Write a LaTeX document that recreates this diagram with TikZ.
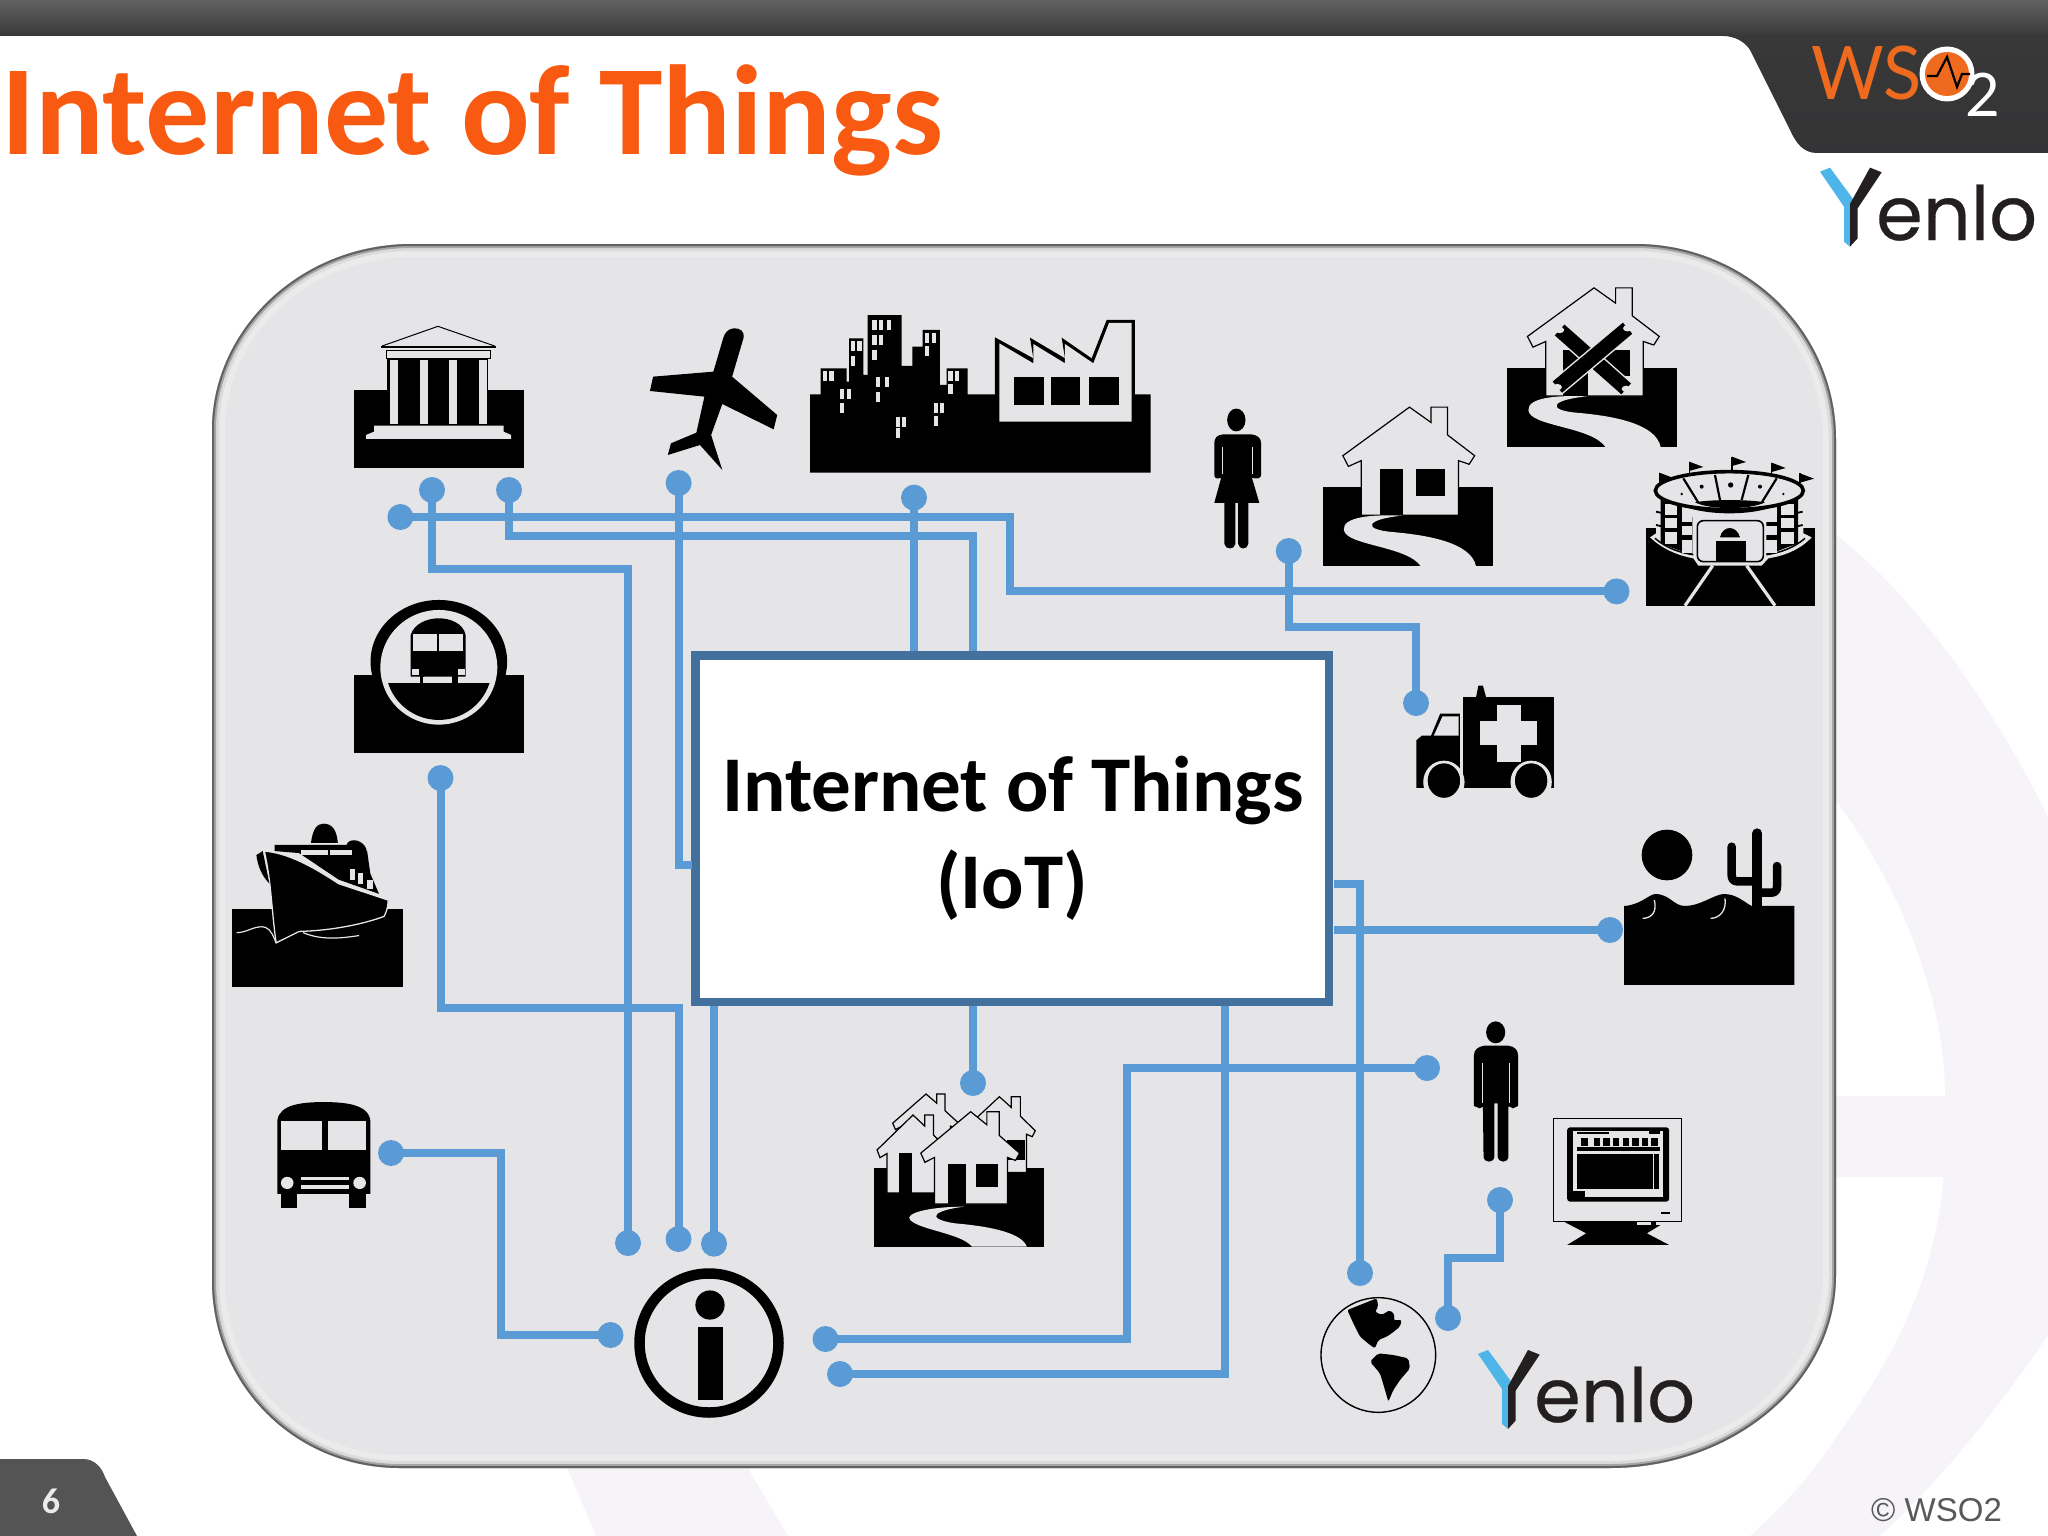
\documentclass[tikz,border=0pt]{standalone}
\usepackage{fontspec}
\setmainfont{Carlito}
\newfontfamily\latofont{Lato}
\newfontfamily\popfont[FakeBold=0.4]{Poppins}
\newfontfamily\arialfont{Liberation Sans}
\usetikzlibrary{calc}
\definecolor{panelc}{HTML}{E5E4E7}
\definecolor{wirec}{HTML}{5B9BD5}
\definecolor{boxc}{HTML}{44709E}
\definecolor{titlec}{HTML}{F95A12}
\definecolor{darkc}{HTML}{343436}
\definecolor{wmc}{HTML}{F6F4F8}
\definecolor{logoblue}{HTML}{4DB5E8}
\definecolor{logoblack}{HTML}{231F20}
\definecolor{wsoorange}{HTML}{EE6A1F}
\tikzset{
  z1/.style={shift={(200,260)},xscale=.4464,yscale=.3333},
  z2/.style={shift={(1150,260)},xscale=.4592,yscale=.3571},
  z3/.style={shift={(220,800)},xscale=.3955,yscale=.4082},
  z4/.style={shift={(840,1000)},xscale=.6378,yscale=.3333},
  z5/.style={shift={(1700,0)},scale=.3333},
  z6/.style={shift={(800,300)},scale=.3333},
  wire/.style={draw=wirec,line width=8pt,miter limit=10},
  dot/.style={circle,fill=wirec,draw=none,minimum size=26pt,inner sep=0pt,outer sep=0pt},
  lt/.style={fill=panelc},
  hs/.style={fill=panelc,draw=black,line width=1.2pt,line join=miter},
}
\newcommand\houseoutline{(565,412) -- (612,455) -- (612,412) -- (648,412) -- (648,490) -- (707,548) -- (695,572) -- (672,562) -- (672,715) -- (460,715) -- (460,562) -- (432,578) -- (420,548) -- cycle}
\newcommand\houseroad{(550,716) .. controls (480,712) and (420,720) .. (422,755) .. controls (425,800) and (560,800) .. (590,858) -- (710,858) .. controls (700,790) and (600,770) .. (530,762) .. controls (460,755) and (470,725) .. (550,716) -- cycle}
\newcommand\yenlologo{%
  \fill[logoblue] (360,515) -- (390,503) -- (470,612) -- (450,630) -- (450,740) -- (432,725) -- (432,620) -- cycle;
  \fill[logoblack] (510,503) -- (545,517) -- (473,625) -- (473,715) -- (450,740) -- (450,612) -- cycle;
}
\begin{document}
\begin{tikzpicture}[x=1pt,y=-1pt]
\useasboundingbox (0,0) rectangle (2048,1536);
\fill[white] (0,0) rectangle (2048,1536);
% watermark
\fill[wmc] (1800,510) .. controls (1900,570) and (1990,700) .. (2048,817) -- (2048,1335) .. controls (1990,1420) and (1940,1480) .. (1880,1536) -- (1750,1536) .. controls (1790,1500) and (1815,1470) .. (1837,1436) .. controls (1900,1350) and (1945,1260) .. (1945,1140) .. controls (1945,980) and (1880,840) .. (1800,760) -- cycle;
\fill[white] (1800,760) .. controls (1880,840) and (1945,980) .. (1945,1096) -- (1800,1096) -- cycle;
\fill[wmc] (1800,1096) rectangle (1945,1177);
\fill[wmc] (564,1460) -- (743,1460) -- (788,1536) -- (596,1536) -- cycle;
% header
\shade[top color=black!62,bottom color=black!78] (0,0) rectangle (2048,36);
\shade[top color=black!78,bottom color=darkc] (2048,36) -- (2048,153) -- (1817,153) .. controls (1803,153) and (1796,143) .. (1790,130) -- (1750,50) .. controls (1745,42) and (1735,36) .. (1723,36) -- cycle;
\node[inner sep=0pt,anchor=base west,font=\fontsize{128}{140}\selectfont\bfseries,text=titlec] (title) at (1,154) {Internet of Things};
% WSO2 logo
\node[inner sep=0pt,anchor=base west,font=\fontsize{74}{80}\selectfont\latofont,text=wsoorange,xscale=.95] (ws) at (1811,100) {WS};
\node[circle,fill=white,minimum size=55pt,inner sep=0pt] (wsring) at (1947,74) {};
\fill[wsoorange] (wsring) circle (22);
\draw[black,line width=2.2pt] (1927,76) -- (1937,76) -- (1947,57) -- (1957,87) -- (1962,74) -- (1970,74);
\node[inner sep=0pt,anchor=base west,font=\fontsize{60}{66}\selectfont\latofont,text=white] (two) at (1965,117) {2};
% Yenlo top
\begin{scope}[z5]
\yenlologo
\end{scope}
\node[inner sep=0pt,anchor=base west,font=\fontsize{75}{80}\selectfont\popfont,text=logoblack] (yenloa) at (1876,240) {enlo};
% page tab
\fill[black!67] (0,1459) -- (83,1459) .. controls (95,1459) and (102,1468) .. (105,1477) -- (137,1536) -- (0,1536) -- cycle;
\node[inner sep=0pt,anchor=base,font=\fontsize{36}{40}\selectfont\bfseries,text=white!92!black] (pg) at (51,1513) {6};
\node[inner sep=0pt,anchor=base west,font=\fontsize{33}{36}\selectfont\arialfont,text=black!65] (copy) at (1871,1521) {© WSO2};
% panel
\newcommand\panelpath{(412,244) -- (1635,244) .. controls (1745,244) and (1836,330) .. (1836,440) -- (1836,1275) .. controls (1836,1385) and (1730,1468) .. (1610,1468) -- (400,1468) .. controls (295,1468) and (212,1385) .. (212,1280) -- (212,430) .. controls (212,330) and (300,244) .. (412,244) -- cycle}
\fill[panelc] \panelpath;
\begin{scope}
\clip \panelpath;
\draw[black!8,line width=26pt] \panelpath;
\draw[black!14,line width=14pt] \panelpath;
\draw[black!35,line width=8pt] \panelpath;
\draw[black!62,line width=4pt] \panelpath;
\end{scope}
% central box
\node[draw=boxc,line width=8.5pt,fill=white,minimum width=633.5pt,minimum height=346.5pt,inner sep=0pt,outer sep=4.25pt] (box) at (1012.25,828.75) {};
\node[inner sep=0pt,anchor=base,font=\fontsize{79}{90}\selectfont\bfseries] (t1) at (1013,811) {Internet of Things};
\node[inner sep=0pt,anchor=base,font=\fontsize{79}{90}\selectfont\bfseries] (t2) at (1012,908) {(IoT)};
% dots
\node[dot] (dBankA) at (432,490) {};
\node[dot] (dBankB) at (509,490) {};
\node[dot] (dBankC) at (400.4,517) {};
\node[dot] (dPlane) at (678.6,483) {};
\node[dot] (dCity) at (914,497.6) {};
\node[dot] (dWoman) at (1288.7,551) {};
\node[dot] (dStad) at (1616.5,591.4) {};
\node[dot] (dAmb) at (1416,703) {};
\node[dot] (dDesert) at (1610,930) {};
\node[dot] (dHomes) at (973,1083) {};
\node[dot] (dMan) at (1427,1068) {};
\node[dot] (dMon) at (1500,1200) {};
\node[dot] (dGlobeA) at (1360,1273) {};
\node[dot] (dGlobeB) at (1448,1318) {};
\node[dot] (dSub) at (440.5,778) {};
\node[dot] (dBus) at (391,1153) {};
\node[dot] (dIa) at (628,1243) {};
\node[dot] (dIb) at (678.5,1239) {};
\node[dot] (dIc) at (714,1243.7) {};
\node[dot] (dId) at (610.5,1335) {};
\node[dot] (dIe) at (825.5,1339) {};
\node[dot] (dIf) at (840,1374) {};
\coordinate (ca) at (1010,591.4);
\coordinate (cb) at (973,536);
\coordinate (cc) at (628,569);
\coordinate (cd) at (691.5,865);
\coordinate (ce) at (1416,627);
\coordinate (cf) at (678.5,1008);
\coordinate (cg) at (500.6,1335);
\coordinate (ch) at (1127,1068);
\coordinate (ci) at (1224.6,1006);
\coordinate (cj) at (1333.6,884);
\coordinate (ck) at (1333.6,930);
\coordinate (cl) at (1475,1258);
% wires
\draw[wire] (dBankC.center) -| (ca) -- (dStad.center);
\draw[wire] (dBankB.center) |- (cb) -- (cb |- box.north);
\draw[wire] (dBankA.center) |- (cc) -- (dIa.center);
\draw[wire] (dPlane.center) |- (cd);
\draw[wire] (dCity.center) -- (dCity |- box.north);
\draw[wire] (dWoman.center) |- (ce) -- (dAmb.center);
\draw[wire] (dSub.center) |- (cf) -- (dIb.center);
\draw[wire] (dIc.center) -- (dIc |- box.south);
\draw[wire] (dBus.center) -| (cg) -- (dId.center);
\draw[wire] (dIe.center) -| (ch) -- (dMan.center);
\draw[wire] (dIf.center) -| (ci);
\draw[wire] (cj) -| (dGlobeA.center);
\draw[wire] (ck) -- (dDesert.center);
\draw[wire] (dHomes.center) -- (dHomes |- box.south);
\draw[wire] (dGlobeB.center) |- (cl) -| (dMon.center);
% bank + plane + subway
\begin{scope}[z1]
\fill[black] (344,390) rectangle (725,625);
\fill[panelc] (344,300) rectangle (418,389);
\fill[panelc] (650,300) rectangle (725,389);
\fill[black] (420,298) rectangle (646,495);
\foreach \cx in {425,492,558,625} \fill[panelc] (\cx,300) rectangle (\cx+18,492);
\fill[panelc] (418,272) rectangle (650,297);
\draw[black,line width=1pt] (418,272) rectangle (650,297);
\draw[black,line width=1pt] (408,258) -- (533,199) -- (660,258);
\draw[black,line width=2pt] (405,260) -- (662,260);
\fill[panelc] (390,497) -- (680,497) -- (680,515) -- (697,525) -- (697,537) -- (372,537) -- (372,525) -- (390,515) -- cycle;
% plane
\fill[black] (1195,205) .. controls (1210,203) and (1220,215) .. (1218,232) -- (1192,350) -- (1293,465) -- (1285,508) -- (1170,432) -- (1145,525) -- (1170,630) -- (1120,555) -- (1048,585) -- (1055,550) -- (1112,518) -- (1130,410) -- (1008,393) -- (1015,350) -- (1150,335) -- (1172,235) .. controls (1175,220) and (1182,207) .. (1195,205) -- cycle;
% subway
\fill[black] (344,1245) rectangle (725,1478);
\fill[black] (535,1205) ellipse [x radius=153,y radius=185];
\fill[panelc] (535,1222) ellipse [x radius=131,y radius=172];
\begin{scope}
\clip (535,1222) ellipse [x radius=119,y radius=158];
\fill[black] (380,1270) rectangle (690,1400);
\end{scope}
\fill[black] (472,1250) -- (472,1125) .. controls (480,1090) and (510,1075) .. (535,1075) .. controls (560,1075) and (590,1090) .. (595,1125) -- (595,1250) -- cycle;
\fill[black] (492,1248) rectangle (502,1272);
\fill[black] (565,1248) rectangle (577,1272);
\fill[panelc] (478,1123) rectangle (530,1172);
\fill[panelc] (535,1123) rectangle (590,1172);
\fill[panelc] (476,1226) rectangle (491,1244);
\fill[panelc] (578,1226) rectangle (593,1244);
\fill[panelc] (500,1250) rectangle (565,1270);
\end{scope}
% city
\begin{scope}[z6]
\fill[black] (30,283) -- (62,283) -- (62,205) -- (140,205) -- (140,245) -- (147,245) -- (147,115) -- (190,115) -- (190,225) -- (203,225) -- (203,45) -- (305,45) -- (305,198) -- (337,198) -- (337,140) -- (368,140) -- (368,90) -- (420,90) -- (420,255) -- (440,255) -- (440,205) -- (503,205) -- (503,283) -- (585,283) -- (585,112) -- (700,175) -- (690,113) -- (795,175) -- (785,113) -- (875,175) -- (920,60) -- (1005,60) -- (1005,283) -- (1052,283) -- (1052,518) -- (30,518) -- cycle;
\fill[panelc] (598,130) -- (700,190) -- (700,132) -- (795,190) -- (795,132) -- (880,190) -- (927,69) -- (995,69) -- (995,365) -- (598,365) -- cycle;
\fill[black] (643,230) rectangle (733,314);
\fill[black] (752,230) rectangle (840,314);
\fill[black] (867,230) rectangle (956,314);
\foreach \wx/\wy in {68/213,88/213,120/268,140/268,120/308,152/122,172/122,152/168,217/60,237/60,260/60,217/105,237/105,217/150,228/232,254/232,228/276,375/98,395/98,375/137,445/212,465/212,445/252,402/308,420/308,402/348,287/352,305/352,287/384}
  \fill[panelc] (\wx,\wy) rectangle (\wx+13,\wy+30);
\end{scope}
% woman, house, condemned house, ambulance
\begin{scope}[z2]
\fill[black] (188,448) ellipse [x radius=20,y radius=32];
\fill[black] (160,488) -- (218,488) .. controls (235,490) and (242,498) .. (242,515) -- (242,600) .. controls (242,612) and (235,614) .. (222,610) -- (238,680) -- (214,680) -- (214,795) .. controls (212,812) and (194,812) .. (192,795) -- (192,680) -- (186,680) -- (186,795) .. controls (184,812) and (164,812) .. (162,795) -- (162,680) -- (140,680) -- (155,610) .. controls (145,614) and (140,612) .. (140,600) -- (140,515) .. controls (140,498) and (145,490) .. (160,488) -- cycle;
\draw[panelc,line width=1.2pt] (158,525) -- (158,600) (224,525) -- (224,600);
% house
\fill[black] (376,637) rectangle (746,858);
\filldraw[hs] \houseoutline;
\fill[black] (500,585) rectangle (552,715);
\fill[black] (580,585) rectangle (643,660);
\fill[lt] \houseroad;
% condemned house
\begin{scope}[shift={(402,-334)}]
\fill[black] (376,637) rectangle (746,858);
\filldraw[hs] \houseoutline;
\fill[black] (497,585) rectangle (552,715);
\fill[black] (580,585) rectangle (643,660);
\fill[lt] \houseroad;
\foreach \ax/\ay/\bx/\by in {490/530/635/695,638/525/485/690}{
  \draw[panelc,line width=17.5pt] (\ax,\ay) -- (\bx,\by);
  \draw[black,line width=14.5pt] (\ax,\ay) -- (\bx,\by);
  \fill[panelc] (\ax,\ay) ellipse [x radius=10,y radius=9];
  \fill[panelc] (\bx,\by) ellipse [x radius=10,y radius=9];
}
\end{scope}
% ambulance
\fill[black] (682,1225) rectangle (880,1478);
\fill[black] (710,1225) -- (715,1192) -- (725,1192) -- (732,1225) -- cycle;
\fill[panelc] (755,1245) rectangle (807,1405);
\fill[panelc] (718,1290) rectangle (843,1358);
\fill[black] (580,1478) -- (580,1345) -- (592,1332) -- (612,1332) -- (632,1270) -- (675,1270) -- (675,1478) -- cycle;
\fill[panelc] (618,1332) -- (637,1278) -- (672,1278) -- (672,1332) -- cycle;
\foreach \wx in {640,830}{
  \fill[panelc] (\wx,1462) ellipse [x radius=45,y radius=60];
  \fill[black] (\wx,1458) ellipse [x radius=35,y radius=48];
}
\fill[panelc] (560,1480) rectangle (900,1520);
\foreach \wx in {640,830} \fill[black] (\wx,1458) ellipse [x radius=35,y radius=48];
\end{scope}
% stadium
\begin{scope}[shift={(1640,450)},scale=.3333]
\fill[black] (17,233) rectangle (525,467);
\fill[panelc] (30,262) .. controls (70,300) and (120,318) .. (160,325) -- (175,347) -- (365,347) -- (385,325) .. controls (430,318) and (480,300) .. (515,262) -- (490,250) -- (490,130) -- (48,130) -- (48,250) -- cycle;
\draw[black,line width=1.5pt] (45,265) .. controls (80,295) and (120,308) .. (160,314);
\draw[black,line width=1.5pt] (495,265) .. controls (460,295) and (420,308) .. (380,314);
\fill[black] (62,150) -- (157,170) -- (157,316) -- (62,280) -- cycle;
\fill[black] (474,150) -- (379,170) -- (379,316) -- (474,280) -- cycle;
\foreach \cx/\cy/\dx/\dy in {75/163/112/195,75/205/112/235,75/245/112/282,125/182/157/215,125/228/157/255,125/270/157/310,424/163/461/195,424/205/461/235,424/245/461/282,379/182/411/215,379/228/411/255,379/270/411/310}
  \fill[panelc] (\cx,\cy) rectangle (\dx,\dy);
\draw[black,line width=1.8pt] (48,185) -- (70,190) (48,225) -- (70,230) (488,185) -- (466,190) (488,225) -- (466,230);
\fill[panelc] (125,158) -- (411,158) -- (411,200) -- (125,200) -- cycle;
\fill[black] (115,160) .. controls (180,200) and (356,200) .. (421,160) .. controls (356,185) and (180,185) .. (115,160) -- cycle;
\fill[panelc] (268,122) ellipse [x radius=222,y radius=56];
\draw[black,line width=3.6pt] (268,122) ellipse [x radius=222,y radius=57];
\fill[black] (165,157) .. controls (210,148) and (326,148) .. (375,157) .. controls (330,180) and (210,180) .. (165,157) -- cycle;
\draw[black,line width=2.2pt] (130,85) -- (175,158) (225,75) -- (240,150) (325,75) -- (305,150) (410,85) -- (365,158);
\fill[black] (125,132) circle (4);
\fill[black] (185,110) circle (6);
\fill[black] (272,105) circle (8);
\fill[black] (360,110) circle (6);
\fill[black] (430,132) circle (4);
\foreach \px/\py/\pb in {58/68/100,148/35/75,276/20/65,395/38/75,480/70/100}{
  \draw[black,line width=1.3pt] (\px,\py) -- (\px,\pb);
  \fill[black] (\px,\py) -- (\px+42,\py+16) -- (\px,\py+28) -- cycle;
}
\filldraw[fill=panelc,draw=black,line width=1.6pt,rounded corners=6pt] (172,212) -- (370,212) -- (370,335) -- (172,335) -- cycle;
\fill[black] (228,272) rectangle (317,332);
\fill[black] (240,262) .. controls (248,225) and (290,225) .. (300,262) -- cycle;
\draw[panelc,line width=3.2pt] (218,347) -- (135,467) (320,347) -- (405,467);
\end{scope}
% ship, bus
\begin{scope}[z3]
\fill[black] (31,266) rectangle (462,458);
\fill[panelc] (31,200) rectangle (462,265);
\fill[black] (230,105) .. controls (235,70) and (245,58) .. (262,58) .. controls (285,58) and (295,75) .. (298,105) -- cycle;
\fill[black] (320,110) .. controls (325,92) and (360,95) .. (370,120) -- (372,150) -- cycle;
\fill[black] (138,110) -- (345,110) -- (372,125) -- (380,180) -- (402,230) -- (300,195) -- (200,130) -- (138,125) -- cycle;
\fill[panelc] (205,122) rectangle (272,135);
\fill[panelc] (278,122) rectangle (335,135);
\fill[panelc] (328,170) rectangle (342,195);
\fill[panelc] (350,180) rectangle (362,205);
\fill[panelc] (372,195) rectangle (386,218);
\filldraw[fill=black,draw=panelc,line width=1.3pt] (112,125) .. controls (170,130) and (230,160) .. (300,205) -- (425,245) .. controls (425,265) and (420,275) .. (415,285) .. controls (360,305) and (280,320) .. (200,322) -- (142,350) .. controls (130,270) and (130,200) .. (112,125) -- cycle;
\fill[black] (92,135) -- (108,125) -- (125,205) .. controls (105,185) and (95,160) .. (92,135) -- cycle;
\draw[panelc,line width=1.2pt] (42,325) .. controls (70,325) and (90,305) .. (115,312) .. controls (130,318) and (135,335) .. (142,350);
\draw[panelc,line width=1.2pt] (210,325) .. controls (260,345) and (310,338) .. (352,332);
% bus
\fill[black] (145,965) -- (145,785) .. controls (150,745) and (210,740) .. (262,740) .. controls (315,740) and (375,745) .. (380,785) -- (380,965) -- cycle;
\fill[black] (155,965) rectangle (195,1000);
\fill[black] (327,965) rectangle (370,1000);
\fill[panelc] (155,787) rectangle (257,858);
\fill[panelc] (272,787) rectangle (370,858);
\fill[panelc] (170,938) ellipse [x radius=16,y radius=15];
\fill[panelc] (353,938) ellipse [x radius=16,y radius=15];
\fill[panelc] (205,924) rectangle (325,932);
\fill[panelc] (205,944) rectangle (325,952);
\end{scope}
\node[circle,draw=black,line width=10.5pt,minimum size=139pt,inner sep=0pt] (info) at (709,1343) {};
\fill[black] (710,1305) circle (14.6);
\fill[black] (697.5,1327) rectangle (723,1400);
% desert
\begin{scope}[shift={(1620,820)},scale=.3333]
\fill[black] (141,105) circle (76);
\fill[black] (12,495) -- (12,258) .. controls (60,255) and (85,225) .. (105,222) .. controls (150,222) and (160,258) .. (195,258) .. controls (240,258) and (280,225) .. (310,222) .. controls (350,222) and (370,245) .. (395,258) -- (523,258) -- (523,495) -- cycle;
\draw[black,line width=10pt,line cap=round] (412,40) -- (412,260);
\draw[black,line width=8.5pt,line cap=round,line join=round] (335,80) -- (335,165) .. controls (335,178) and (342,184) .. (352,184) -- (412,184);
\draw[black,line width=8.5pt,line cap=round,line join=round] (471,138) -- (471,200) .. controls (471,212) and (464,218) .. (454,218) -- (412,218);
\draw[panelc,line width=1.3pt] (68,295) .. controls (95,295) and (112,275) .. (103,240);
\draw[panelc,line width=1.3pt] (272,295) .. controls (300,295) and (320,270) .. (315,235);
\end{scope}
% homes cluster
\fill[black] (873.8,1167.7) rectangle (1044,1246.7);
\begin{scope}[shift={(999.4,1096.7)},xscale=.2526,yscale=.25,shift={(-565,-412)}]
\filldraw[hs] \houseoutline;
\end{scope}
\begin{scope}[shift={(926,1094)},xscale=.2296,yscale=.2143,shift={(-565,-412)}]
\filldraw[hs] \houseoutline;
\end{scope}
\begin{scope}[z4]
\fill[black] (262,420) rectangle (290,480);
\end{scope}
\begin{scope}[shift={(913,1115)},xscale=.248,yscale=.257,shift={(-565,-412)}]
\filldraw[hs] \houseoutline;
\fill[black] (510,560) rectangle (560,715);
\end{scope}
\begin{scope}[shift={(970.7,1111.7)},xscale=.3444,yscale=.3046,shift={(-565,-412)}]
\filldraw[hs] \houseoutline;
\fill[black] (500,585) rectangle (552,715);
\fill[black] (580,585) rectangle (643,660);
\end{scope}
\begin{scope}[z4]
\fill[lt] (195,620) .. controls (140,620) and (100,640) .. (110,660) .. controls (125,690) and (190,700) .. (207,740) -- (293,740) .. controls (285,700) and (240,680) .. (180,670) .. controls (130,655) and (150,630) .. (195,620) -- cycle;
% man
\fill[black] (1028,97) ellipse [x radius=15,y radius=33];
\fill[black] (1010,137) -- (1048,137) .. controls (1058,140) and (1063,150) .. (1063,165) -- (1063,318) -- (1055,325) -- (1050,320) -- (1048,320) -- (1048,470) .. controls (1047,490) and (1033,490) .. (1031,470) -- (1031,310) -- (1026,310) -- (1026,470) .. controls (1025,490) and (1010,490) .. (1009,470) -- (1008,320) -- (1003,325) -- (994,318) -- (994,165) .. controls (994,150) and (1000,140) .. (1010,137) -- cycle;
\draw[panelc,line width=.9pt] (1008,190) -- (1008,310) (1049,190) -- (1049,310);
% monitor
\filldraw[fill=panelc,draw=black,line width=1pt] (1118,357) rectangle (1320,665);
\fill[black,rounded corners=3pt] (1140,382) rectangle (1300,605);
\fill[panelc] (1150,392) rectangle (1290,590);
\fill[black] (1156,462) rectangle (1274,566);
\fill[black] (1155,442) rectangle (1285,452);
\foreach \mx in {1162,1182,1197,1212,1227,1242,1257,1272} \fill[black] (\mx,415) rectangle (\mx+10,437);
\fill[black] (1155,396) rectangle (1205,401);
\fill[black] (1268,392) rectangle (1285,402);
\fill[black] (1276,462) rectangle (1284,566);
\fill[black] (1150,574) rectangle (1168,590);
\fill[black] (1287,637) rectangle (1301,643);
\fill[black] (1135,665) -- (1295,665) -- (1265,700) -- (1300,735) -- (1140,735) -- (1170,700) -- cycle;
\fill[panelc] (1250,665) rectangle (1272,676);
\fill[panelc] (1280,665) rectangle (1297,676);
\end{scope}
% globe
\begin{scope}[shift={(1310,1290)},scale=.3333]
\filldraw[fill=panelc,draw=black,line width=1.4pt] (205,195) circle (172);
\fill[black,rounded corners=2pt] (112,60) -- (200,25) -- (205,50) -- (195,65) -- (215,75) -- (240,60) -- (255,75) -- (250,90) -- (275,90) -- (270,110) -- (245,130) -- (230,140) -- (205,150) -- (195,175) -- (180,165) -- (150,140) -- (130,100) -- cycle;
\fill[black,rounded corners=2pt] (180,215) -- (205,190) -- (250,195) -- (295,205) -- (300,235) -- (270,270) -- (250,300) -- (235,335) -- (225,300) -- (210,250) -- cycle;
\end{scope}
% Yenlo in panel
\begin{scope}[shift={(-342,1182.3)},z5]
\yenlologo
\end{scope}
\node[inner sep=0pt,anchor=base west,font=\fontsize{75}{80}\selectfont\popfont,text=logoblack] (yenlob) at (1534,1422) {enlo};
\end{tikzpicture}
\end{document}
